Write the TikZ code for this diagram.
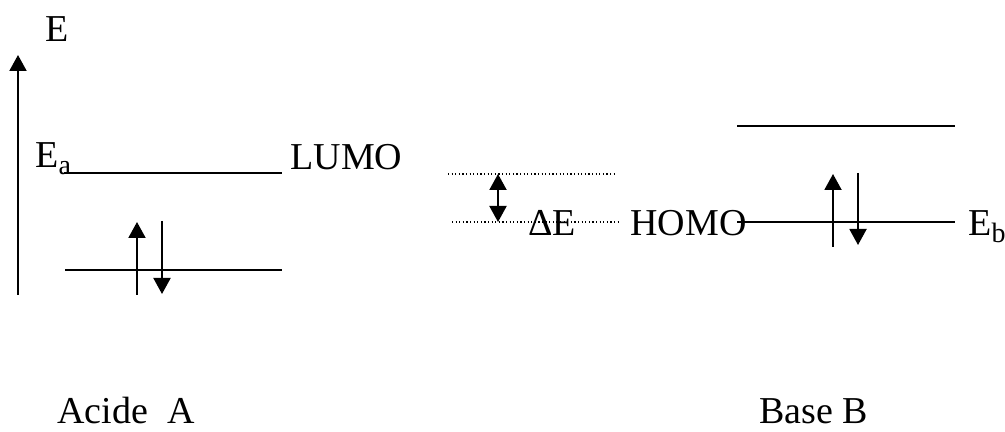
\documentclass[tikz,border=0pt]{standalone}
\usepackage{fontspec}
\setmainfont{Liberation Serif}
\usetikzlibrary{arrows.meta}
\newcommand{\mysub}[1]{\raisebox{-3.5pt}{\fontsize{14}{14}\selectfont #1}}
\begin{document}
\begin{tikzpicture}[x=0.5pt,y=-0.5pt,
  level/.style={line width=1pt},
  spin/.style={line width=1pt,-{Triangle[width=8.5pt,length=8pt]}},
  dspin/.style={line width=1pt,{Triangle[width=8.5pt,length=8pt]}-{Triangle[width=8.5pt,length=8pt]}},
  gap/.style={line width=0.6pt, dash pattern=on 0.6pt off 1.2pt},
  lbl/.style={inner sep=0pt, anchor=base west, font=\fontsize{19}{23}\selectfont}]
\useasboundingbox (0,0) rectangle (1005,432);
% energy axis
\coordinate (ax0) at (18,295);
\coordinate (ax1) at (18,55);
\draw[spin] (ax0) -- (ax1);
\node[lbl] (E) at (45,42) {E};
% acid levels
\coordinate (la0) at (64,173);
\coordinate (la1) at (282,173);
\draw[level] (la0) -- (la1);
\node[lbl] (Ea) at (35,168) {E\mysub{a}};
\node[lbl] (LUMO) at (290,170) {LUMO};
\coordinate (ha0) at (65,270);
\coordinate (ha1) at (282,270);
\draw[level] (ha0) -- (ha1);
\coordinate (ua0) at (137,295);
\coordinate (ua1) at (137,222);
\draw[spin] (ua0) -- (ua1);
\coordinate (da0) at (162,221);
\coordinate (da1) at (162,294);
\draw[spin] (da0) -- (da1);
% gap
\coordinate (g10) at (448,174);
\coordinate (g11) at (615,174);
\draw[gap] (g10) -- (g11);
\coordinate (g20) at (452,222);
\coordinate (g21) at (618,222);
\draw[gap] (g20) -- (g21);
\coordinate (dg0) at (498,174);
\coordinate (dg1) at (498,222);
\draw[dspin] (dg0) -- (dg1);
\node[lbl] (dE) at (528,236) {ΔE};
\node[lbl] (HOMO) at (630,236) {HOMO};
% base levels
\coordinate (lb0) at (737,126);
\coordinate (lb1) at (955,126);
\draw[level] (lb0) -- (lb1);
\coordinate (hb0) at (737,222);
\coordinate (hb1) at (955,222);
\draw[level] (hb0) -- (hb1);
\coordinate (ub0) at (833,247);
\coordinate (ub1) at (833,174);
\draw[spin] (ub0) -- (ub1);
\coordinate (db0) at (858,173);
\coordinate (db1) at (858,245);
\draw[spin] (db0) -- (db1);
\node[lbl] (Eb) at (968,236) {E\mysub{b}};
% captions
\node[lbl] (acide) at (57,423) {Acide\ \ A};
\node[lbl] (base) at (759,423) {Base B};
\end{tikzpicture}
\end{document}
